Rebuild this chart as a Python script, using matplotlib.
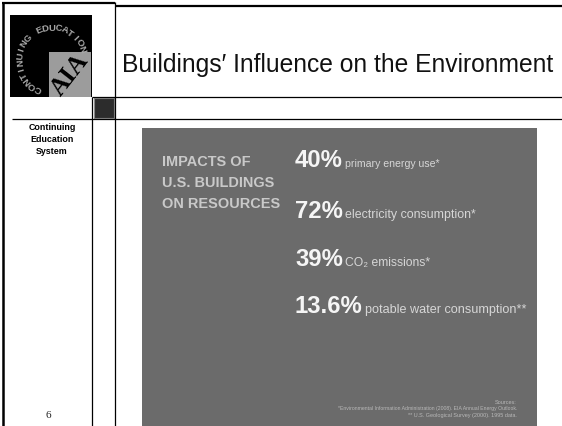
import matplotlib
matplotlib.use('Agg')
import matplotlib.pyplot as plt
import matplotlib.patches as patches
from matplotlib import font_manager
import numpy as np

# slide texts
title = 'Buildings\u2032 Influence on the Environment'
side_lines = ['Continuing', 'Education', 'System']
page_no = '6'
logo_ring = 'CONTINUING EDUCATION'
logo_mark = 'AIA'

header_lines = ['IMPACTS OF', 'U.S. BUILDINGS', 'ON RESOURCES']
percents = ['40%', '72%', '39%', '13.6%']
labels = ['primary energy use*', 'electricity consumption*',
          'CO\u2082 emissions*', 'potable water consumption**']
sources = ['Sources:',
           '*Environmental Information Administration (2008). EIA Annual Energy Outlook.',
           '** U.S. Geological Survey (2000). 1995 data.']

#pick fonts that are really there
installed = {f.name for f in font_manager.fontManager.ttflist}
SANS = ['Liberation Sans', 'DejaVu Sans']
NARROW = ['Liberation Sans Narrow', 'Liberation Sans', 'DejaVu Sans'] \
    if 'Liberation Sans Narrow' in installed else SANS
SERIF = ['Liberation Serif', 'DejaVu Serif']

W, H = 562, 426
fig = plt.figure(figsize=(W / 100, H / 100), dpi=100)
ax = fig.add_axes([0, 0, 1, 1])
ax.set_xlim(0, W)
ax.set_ylim(H, 0)
ax.axis('off')
renderer = fig.canvas.get_renderer()


def fit(txt, width):
  #scale font so text spans the given pixel width
  bb = txt.get_window_extent(renderer)
  txt.set_fontsize(txt.get_fontsize() * width / bb.width)
  return txt.get_fontsize()


def right_edge(txt):
  bb = txt.get_window_extent(renderer)
  return ax.transData.inverted().transform((bb.x1, bb.y0))[0]


#frame lines
k = dict(color='black', solid_capstyle='butt')
ax.plot([2, 115], [3, 3], lw=1.6, **k)
ax.plot([115, W], [6, 6], lw=1.6, **k)
ax.plot([2.5, 2.5], [2, H], lw=1.8, **k)
ax.plot([114.5, 114.5], [2, H], lw=0.9, **k)
ax.plot([92, 92], [97, H], lw=0.9, **k)
ax.plot([92, W], [97, 97], lw=0.9, **k)
ax.plot([12, W], [119, 119], lw=0.9, **k)
ax.add_patch(patches.Rectangle((93.5, 98), 20, 20, facecolor='#2c2c2c',
                               edgecolor='#8a8a8a', lw=0.8))

#logo
ax.add_patch(patches.Rectangle((10, 15), 82, 82, facecolor='black', lw=0))
ax.add_patch(patches.Rectangle((49, 52), 42, 45, facecolor='#9c9c9c', lw=0))
aia = ax.text(70, 75, logo_mark, family=SERIF, fontweight='bold', fontsize=14,
              color='black', rotation=52, ha='center', va='center',
              rotation_mode='anchor')
fit(aia, 46)
cx, cy, r = 52, 60, 32
angles = np.linspace(244, 20, len(logo_ring))
for ch, a in zip(logo_ring, angles):
  t = np.radians(a)
  ax.text(cx + r * np.cos(t), cy - r * np.sin(t), ch, family=SANS,
          fontweight='bold', fontsize=6.8, color='#a8a8a8', rotation=a - 90,
          ha='center', va='center', rotation_mode='anchor')

#title
tt = ax.text(122, 72, title, family=NARROW, fontsize=17, color='#111111',
             ha='left', va='baseline')
fit(tt, 433)

#left column
for i, s in enumerate(side_lines):
  ax.text(52, 127 + i * 12, s, family=SANS, fontweight='bold', fontsize=6.4,
          color='black', ha='center', va='center')
ax.text(48, 415, page_no, family=SERIF, fontsize=8, color='#222222',
        ha='center', va='center')

#picture panel
ax.add_patch(patches.Rectangle((142, 128), 395, H - 128, facecolor='#6b6b6b',
                               lw=0))

hdr = [ax.text(162, 166 + i * 21, s, family=NARROW, fontweight='bold',
               fontsize=14, color='#c9c9c9', ha='left', va='baseline')
       for i, s in enumerate(header_lines)]
fs = fit(hdr[2], 118)
for h in hdr:
  h.set_fontsize(fs)

rows_y = [167, 218, 266, 313]
pct = [ax.text(295, y, p, family=SANS, fontweight='bold', fontsize=17,
               color='#f5f5f5', ha='left', va='baseline')
       for p, y in zip(percents, rows_y)]
fs = fit(pct[3], 68)
for p in pct:
  p.set_fontsize(fs)

label_w = [95, 133, 85, 163]
for p, lab, y, w in zip(pct, labels, rows_y, label_w):
  lt = ax.text(right_edge(p) + 2, y, lab, family=SANS, fontsize=6,
               color='#d6d6d6', ha='left', va='baseline')
  fit(lt, w)

src_w = [22, 180, 110]
for i, (s, w) in enumerate(zip(sources, src_w)):
  st = ax.text(517, 402 + i * 6.5, s, family=SANS, fontsize=2.5,
               color='#b8b8b8', ha='right', va='center')
  fit(st, w)

fig.savefig('out.png', dpi=100)
